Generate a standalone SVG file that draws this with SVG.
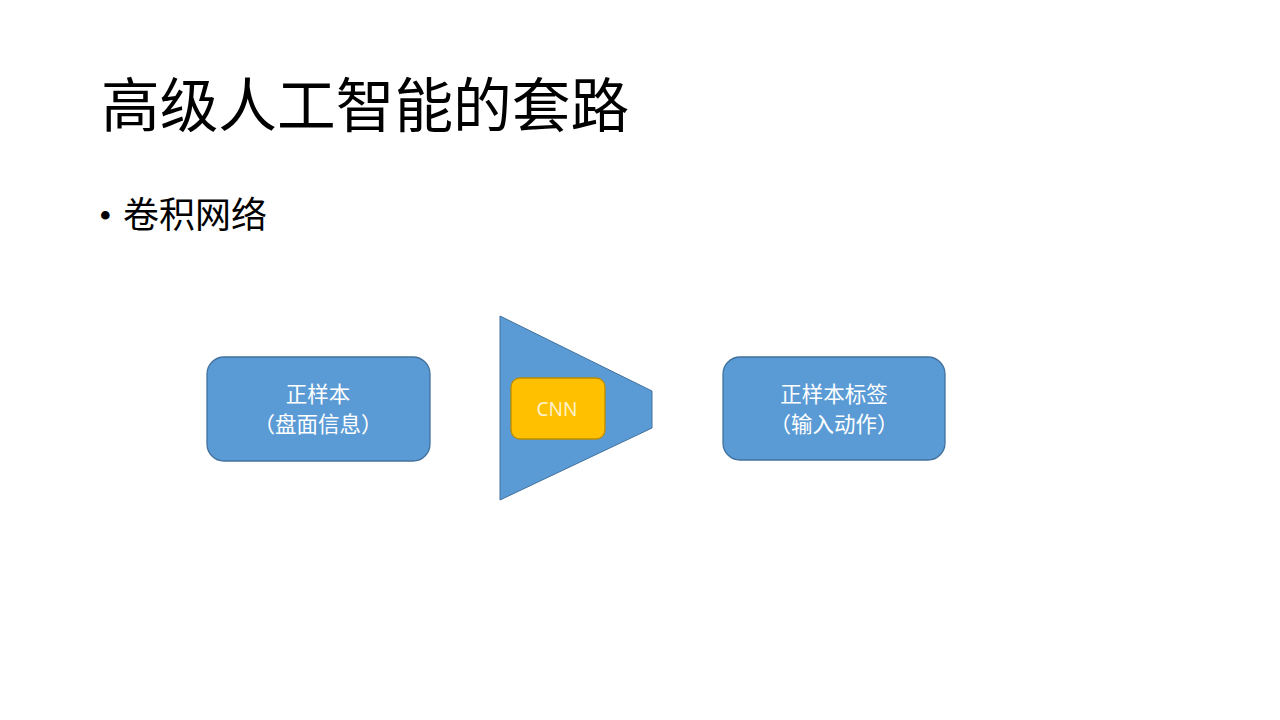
<svg xmlns="http://www.w3.org/2000/svg" width="1280" height="720" viewBox="0 0 1280 720">
<style>
.title{font-family:"Liberation Serif","Noto Sans CJK SC",serif;font-size:58.7px;fill:#000}
.bullet{font-family:"Liberation Serif","Noto Sans CJK SC",serif;font-size:36px;fill:#000}
.box{fill:#5B9BD5;stroke:#41719C;stroke-width:1.3}
.lbl{font-family:"Liberation Sans","Noto Sans CJK SC",sans-serif;font-size:21.5px;fill:#fff;text-anchor:middle}
.cnn{fill:#FFC000;stroke:#BC8C00;stroke-width:1.3}
.cnnt{font-family:"Noto Sans","Liberation Sans",sans-serif;font-size:19px;fill:#FFF2CC;text-anchor:middle}
</style>
<rect width="1280" height="720" fill="#fff"/>
<text class="title" x="101" y="127">高级人工智能的套路</text>
<text class="bullet" x="99" y="228" font-size="30">•</text>
<text class="bullet" x="123" y="228">卷积网络</text>
<g id="node-positive">
<rect class="box" x="207" y="357" width="223" height="104" rx="17"/>
<text class="lbl" x="318" y="402">正样本</text>
<text class="lbl" x="318" y="432">（盘面信息）</text>
</g>
<g id="node-funnel">
<polygon points="500,316 652,391 652,428 500,500" fill="#5B9BD5" stroke="#41719C" stroke-width="1"/>
</g>
<g id="node-cnn">
<rect class="cnn" x="511" y="378" width="94" height="61" rx="9"/>
<text class="cnnt" x="557" y="416">CNN</text>
</g>
<g id="node-label">
<rect class="box" x="723" y="357" width="222" height="103" rx="17"/>
<text class="lbl" x="834" y="402">正样本标签</text>
<text class="lbl" x="834" y="432">（输入动作）</text>
</g>
<g id="connectors"></g>
</svg>
